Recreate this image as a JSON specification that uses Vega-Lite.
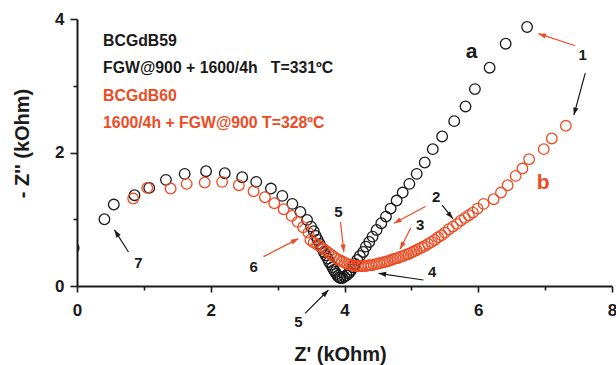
{
  "$schema": "https://vega.github.io/schema/vega-lite/v6.json",
  "width": 535,
  "height": 267,
  "autosize": {"type": "none"},
  "padding": {"left": 77, "top": 19, "right": 4, "bottom": 79},
  "background": "white",
  "config": {"view": {"stroke": null}, "font": "Liberation Sans"},
  "datasets": {
    "pts": [
      {"x": -0.05, "y": 0.57, "s": "a"}, {"x": 0.41, "y": 1.00, "s": "a"}, {"x": 0.55, "y": 1.22, "s": "a"}, {"x": 0.86, "y": 1.36, "s": "a"},
      {"x": 1.08, "y": 1.47, "s": "a"}, {"x": 1.33, "y": 1.59, "s": "a"}, {"x": 1.61, "y": 1.68, "s": "a"}, {"x": 1.93, "y": 1.72, "s": "a"},
      {"x": 2.21, "y": 1.69, "s": "a"}, {"x": 2.47, "y": 1.63, "s": "a"}, {"x": 2.68, "y": 1.56, "s": "a"}, {"x": 2.90, "y": 1.46, "s": "a"},
      {"x": 3.07, "y": 1.35, "s": "a"}, {"x": 3.22, "y": 1.23, "s": "a"}, {"x": 3.34, "y": 1.11, "s": "a"}, {"x": 3.44, "y": 0.99, "s": "a"},
      {"x": 3.50, "y": 0.89, "s": "a"}, {"x": 3.54, "y": 0.82, "s": "a"}, {"x": 3.57, "y": 0.75, "s": "a"}, {"x": 3.60, "y": 0.69, "s": "a"},
      {"x": 3.63, "y": 0.63, "s": "a"}, {"x": 3.66, "y": 0.57, "s": "a"}, {"x": 3.69, "y": 0.51, "s": "a"}, {"x": 3.72, "y": 0.46, "s": "a"},
      {"x": 3.75, "y": 0.41, "s": "a"}, {"x": 3.77, "y": 0.36, "s": "a"}, {"x": 3.80, "y": 0.32, "s": "a"}, {"x": 3.82, "y": 0.28, "s": "a"},
      {"x": 3.84, "y": 0.24, "s": "a"}, {"x": 3.86, "y": 0.21, "s": "a"}, {"x": 3.88, "y": 0.18, "s": "a"}, {"x": 3.90, "y": 0.15, "s": "a"},
      {"x": 3.92, "y": 0.13, "s": "a"}, {"x": 3.94, "y": 0.12, "s": "a"}, {"x": 3.97, "y": 0.12, "s": "a"}, {"x": 4.00, "y": 0.14, "s": "a"},
      {"x": 4.03, "y": 0.16, "s": "a"}, {"x": 4.06, "y": 0.19, "s": "a"}, {"x": 4.08, "y": 0.21, "s": "a"}, {"x": 4.10, "y": 0.24, "s": "a"},
      {"x": 4.13, "y": 0.28, "s": "a"}, {"x": 4.16, "y": 0.33, "s": "a"}, {"x": 4.19, "y": 0.39, "s": "a"}, {"x": 4.23, "y": 0.45, "s": "a"},
      {"x": 4.28, "y": 0.51, "s": "a"}, {"x": 4.32, "y": 0.59, "s": "a"}, {"x": 4.37, "y": 0.66, "s": "a"}, {"x": 4.42, "y": 0.74, "s": "a"},
      {"x": 4.48, "y": 0.84, "s": "a"}, {"x": 4.55, "y": 0.94, "s": "a"}, {"x": 4.62, "y": 1.04, "s": "a"}, {"x": 4.69, "y": 1.16, "s": "a"},
      {"x": 4.78, "y": 1.28, "s": "a"}, {"x": 4.87, "y": 1.40, "s": "a"}, {"x": 4.97, "y": 1.53, "s": "a"}, {"x": 5.08, "y": 1.68, "s": "a"},
      {"x": 5.20, "y": 1.85, "s": "a"}, {"x": 5.32, "y": 2.05, "s": "a"}, {"x": 5.46, "y": 2.24, "s": "a"}, {"x": 5.64, "y": 2.47, "s": "a"},
      {"x": 5.81, "y": 2.69, "s": "a"}, {"x": 5.95, "y": 2.95, "s": "a"}, {"x": 6.17, "y": 3.27, "s": "a"}, {"x": 6.41, "y": 3.63, "s": "a"},
      {"x": 6.73, "y": 3.88, "s": "a"},
      {"x": 0.84, "y": 1.31, "s": "b"}, {"x": 1.05, "y": 1.47, "s": "b"}, {"x": 1.40, "y": 1.46, "s": "b"}, {"x": 1.64, "y": 1.53, "s": "b"},
      {"x": 1.91, "y": 1.55, "s": "b"}, {"x": 2.17, "y": 1.56, "s": "b"}, {"x": 2.42, "y": 1.51, "s": "b"}, {"x": 2.64, "y": 1.42, "s": "b"},
      {"x": 2.81, "y": 1.33, "s": "b"}, {"x": 2.95, "y": 1.24, "s": "b"}, {"x": 3.09, "y": 1.15, "s": "b"}, {"x": 3.21, "y": 1.05, "s": "b"},
      {"x": 3.30, "y": 0.96, "s": "b"}, {"x": 3.38, "y": 0.88, "s": "b"}, {"x": 3.46, "y": 0.80, "s": "b"}, {"x": 3.49, "y": 0.69, "s": "b"},
      {"x": 3.54, "y": 0.65, "s": "b"}, {"x": 3.59, "y": 0.62, "s": "b"}, {"x": 3.64, "y": 0.59, "s": "b"}, {"x": 3.68, "y": 0.56, "s": "b"},
      {"x": 3.72, "y": 0.53, "s": "b"}, {"x": 3.76, "y": 0.50, "s": "b"}, {"x": 3.80, "y": 0.47, "s": "b"}, {"x": 3.84, "y": 0.44, "s": "b"},
      {"x": 3.88, "y": 0.41, "s": "b"}, {"x": 3.92, "y": 0.39, "s": "b"}, {"x": 3.96, "y": 0.37, "s": "b"}, {"x": 4.00, "y": 0.35, "s": "b"},
      {"x": 4.04, "y": 0.33, "s": "b"}, {"x": 4.08, "y": 0.32, "s": "b"}, {"x": 4.12, "y": 0.31, "s": "b"}, {"x": 4.16, "y": 0.30, "s": "b"},
      {"x": 4.20, "y": 0.30, "s": "b"}, {"x": 4.24, "y": 0.30, "s": "b"}, {"x": 4.28, "y": 0.30, "s": "b"}, {"x": 4.32, "y": 0.30, "s": "b"},
      {"x": 4.36, "y": 0.31, "s": "b"}, {"x": 4.40, "y": 0.31, "s": "b"}, {"x": 4.44, "y": 0.32, "s": "b"}, {"x": 4.48, "y": 0.33, "s": "b"},
      {"x": 4.52, "y": 0.34, "s": "b"}, {"x": 4.56, "y": 0.35, "s": "b"}, {"x": 4.60, "y": 0.36, "s": "b"}, {"x": 4.64, "y": 0.37, "s": "b"},
      {"x": 4.68, "y": 0.38, "s": "b"}, {"x": 4.72, "y": 0.40, "s": "b"}, {"x": 4.76, "y": 0.41, "s": "b"}, {"x": 4.80, "y": 0.42, "s": "b"},
      {"x": 4.84, "y": 0.44, "s": "b"}, {"x": 4.88, "y": 0.45, "s": "b"}, {"x": 4.92, "y": 0.47, "s": "b"}, {"x": 4.96, "y": 0.48, "s": "b"},
      {"x": 5.00, "y": 0.50, "s": "b"}, {"x": 5.04, "y": 0.52, "s": "b"}, {"x": 5.08, "y": 0.54, "s": "b"}, {"x": 5.12, "y": 0.56, "s": "b"},
      {"x": 5.16, "y": 0.58, "s": "b"}, {"x": 5.20, "y": 0.60, "s": "b"}, {"x": 5.25, "y": 0.63, "s": "b"}, {"x": 5.30, "y": 0.66, "s": "b"},
      {"x": 5.35, "y": 0.69, "s": "b"}, {"x": 5.40, "y": 0.73, "s": "b"}, {"x": 5.45, "y": 0.76, "s": "b"}, {"x": 5.50, "y": 0.80, "s": "b"},
      {"x": 5.56, "y": 0.85, "s": "b"}, {"x": 5.62, "y": 0.89, "s": "b"}, {"x": 5.68, "y": 0.93, "s": "b"}, {"x": 5.74, "y": 0.98, "s": "b"},
      {"x": 5.80, "y": 1.02, "s": "b"}, {"x": 5.86, "y": 1.06, "s": "b"}, {"x": 5.92, "y": 1.10, "s": "b"}, {"x": 5.99, "y": 1.16, "s": "b"},
      {"x": 6.08, "y": 1.23, "s": "b"}, {"x": 6.23, "y": 1.30, "s": "b"}, {"x": 6.34, "y": 1.40, "s": "b"}, {"x": 6.44, "y": 1.51, "s": "b"},
      {"x": 6.56, "y": 1.65, "s": "b"}, {"x": 6.66, "y": 1.76, "s": "b"}, {"x": 6.76, "y": 1.90, "s": "b"}, {"x": 6.98, "y": 2.05, "s": "b"},
      {"x": 7.10, "y": 2.21, "s": "b"}, {"x": 7.31, "y": 2.40, "s": "b"}
    ],
    "legendText": [
      {"x": 0.39, "y": 3.67, "t": "BCGdB59", "s": "a"},
      {"x": 0.39, "y": 3.27, "t": "FGW@900 + 1600/4h\u00a0\u00a0\u00a0T=331ºC", "s": "a"},
      {"x": 0.39, "y": 2.85, "t": "BCGdB60", "s": "b"},
      {"x": 0.39, "y": 2.44, "t": "1600/4h + FGW@900 T=328ºC", "s": "b"}
    ],
    "nums": [
      {"x": 7.56, "y": 3.46, "t": "1", "s": "a"},
      {"x": 5.37, "y": 1.34, "t": "2", "s": "a"},
      {"x": 5.13, "y": 0.91, "t": "3", "s": "a"},
      {"x": 5.31, "y": 0.21, "t": "4", "s": "a"},
      {"x": 3.91, "y": 1.11, "t": "5", "s": "a"},
      {"x": 3.31, "y": -0.54, "t": "5", "s": "a"},
      {"x": 2.64, "y": 0.28, "t": "6", "s": "a"},
      {"x": 0.92, "y": 0.34, "t": "7", "s": "a"}
    ],
    "ab": [
      {"x": 5.90, "y": 3.51, "t": "a", "s": "a"},
      {"x": 6.97, "y": 1.54, "t": "b", "s": "b"}
    ],
    "arrows": [
      {"x": 7.45, "y": 3.60, "x2": 6.90, "y2": 3.78, "s": "b", "angle": 288},
      {"x": 7.60, "y": 3.19, "x2": 7.43, "y2": 2.56, "s": "a", "angle": 195},
      {"x": 5.46, "y": 1.21, "x2": 5.62, "y2": 1.01, "s": "a", "angle": 140},
      {"x": 5.21, "y": 1.19, "x2": 4.74, "y2": 0.94, "s": "b", "angle": 242},
      {"x": 4.99, "y": 0.87, "x2": 4.83, "y2": 0.55, "s": "b", "angle": 207},
      {"x": 5.18, "y": 0.09, "x2": 4.51, "y2": 0.19, "s": "a", "angle": 278},
      {"x": 3.94, "y": 0.96, "x2": 3.99, "y2": 0.51, "s": "b", "angle": 174},
      {"x": 3.41, "y": -0.41, "x2": 3.76, "y2": -0.06, "s": "a", "angle": 45},
      {"x": 2.79, "y": 0.44, "x2": 3.31, "y2": 0.71, "s": "b", "angle": 62},
      {"x": 0.77, "y": 0.51, "x2": 0.56, "y2": 0.84, "s": "a", "angle": 327}
    ]
  },
  "encoding": {
    "x": {
      "field": "x", "type": "quantitative",
      "scale": {"domain": [0, 8], "nice": false, "zero": false},
      "axis": {
        "title": "Z' (kOhm)",
        "values": [0, 1, 2, 3, 4, 5, 6, 7, 8],
        "labelExpr": "datum.value % 2 === 0 ? datum.label : ''",
        "grid": false, "labelFlush": false, "labelOverlap": false,
        "domainColor": "#1a1a1a", "domainWidth": 2,
        "tickColor": "#1a1a1a", "tickWidth": 1.6,
        "tickSize": {"condition": {"test": "datum.value % 2 === 0", "value": 6}, "value": 4},
        "labelFontSize": 17, "labelFontWeight": "bold", "labelColor": "#1a1a1a", "labelPadding": 10,
        "titleFontSize": 20, "titleFontWeight": "bold", "titleColor": "#1a1a1a",
        "titleX": 263, "titleY": 68, "titleBaseline": "middle"
      }
    },
    "y": {
      "field": "y", "type": "quantitative",
      "scale": {"domain": [0, 4], "nice": false, "zero": false},
      "axis": {
        "title": "- Z'' (kOhm)",
        "values": [0, 1, 2, 3, 4],
        "labelExpr": "datum.value % 2 === 0 ? datum.label : ''",
        "grid": false, "labelFlush": false, "labelOverlap": false,
        "domainColor": "#1a1a1a", "domainWidth": 2,
        "tickColor": "#1a1a1a", "tickWidth": 1.6,
        "tickSize": {"condition": {"test": "datum.value % 2 === 0", "value": 7}, "value": 4},
        "labelFontSize": 17, "labelFontWeight": "bold", "labelColor": "#1a1a1a", "labelPadding": 6,
        "titleFontSize": 20, "titleFontWeight": "bold", "titleColor": "#1a1a1a",
        "titleX": -55, "titleY": 124, "titleBaseline": "middle"
      }
    },
    "color": {
      "field": "s", "type": "nominal",
      "scale": {"domain": ["a", "b"], "range": ["#1a1a1a", "#ee4b22"]},
      "legend": null
    }
  },
  "layer": [
    {
      "data": {"name": "pts"},
      "mark": {"type": "point", "shape": "circle", "filled": false, "size": 112, "strokeWidth": 1.3, "opacity": 1, "clip": true}
    },
    {
      "data": {"name": "legendText"},
      "mark": {"type": "text", "align": "left", "baseline": "middle", "fontSize": 15.8, "fontWeight": "bold", "font": "Liberation Sans"},
      "encoding": {"text": {"field": "t"}}
    },
    {
      "data": {"name": "arrows"},
      "mark": {"type": "rule", "strokeWidth": 1.2},
      "encoding": {"x2": {"field": "x2"}, "y2": {"field": "y2"}}
    },
    {
      "data": {"name": "arrows"},
      "mark": {"type": "point", "shape": "M0,0L-0.7,2L0.7,2Z", "filled": true, "size": 56, "strokeWidth": 0, "opacity": 1},
      "encoding": {
        "x": {"field": "x2", "type": "quantitative"},
        "y": {"field": "y2", "type": "quantitative"},
        "angle": {"field": "angle", "type": "quantitative", "scale": null}
      }
    },
    {
      "data": {"name": "nums"},
      "mark": {"type": "text", "align": "center", "baseline": "middle", "fontSize": 15, "fontWeight": "bold", "font": "Liberation Sans"},
      "encoding": {"text": {"field": "t"}}
    },
    {
      "data": {"name": "ab"},
      "mark": {"type": "text", "align": "center", "baseline": "middle", "fontSize": 21, "fontWeight": "bold", "font": "Liberation Sans"},
      "encoding": {"text": {"field": "t"}}
    }
  ]
}
